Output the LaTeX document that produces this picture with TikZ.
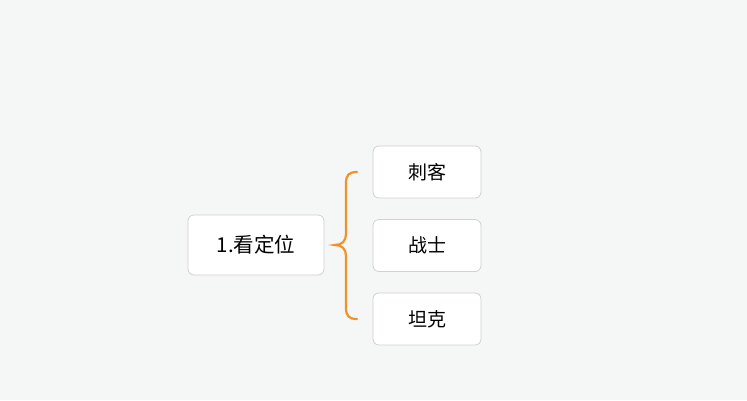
\documentclass[tikz,border=0pt]{standalone}
\usepackage{fontspec}
\setmainfont{Noto Sans CJK SC}
\begin{document}
\begin{tikzpicture}[x=1pt,y=-1pt,
  box/.style={draw=black!18,fill=white,rounded corners=6pt,line width=0.8pt,align=center},
  brace/.style={draw=bracecol,line width=2.2pt,line cap=round}]
\definecolor{bg}{HTML}{F5F6F6}
\definecolor{bracecol}{HTML}{F0922A}
\fill[bg] (0,0) rectangle (747,400);
\useasboundingbox (0,0) rectangle (747,400);
\node[box,minimum width=136pt,minimum height=60pt,font=\fontsize{20.5}{24}\selectfont] (root) at (256,245) {1.看定位};
\node[box,minimum width=108pt,minimum height=52pt,font=\fontsize{19}{22}\selectfont] (c1) at (427,172) {刺客};
\node[box,minimum width=108pt,minimum height=52pt,font=\fontsize{19}{22}\selectfont] (c2) at (427,245.5) {战士};
\node[box,minimum width=108pt,minimum height=52pt,font=\fontsize{19}{22}\selectfont] (c3) at (427,319) {坦克};
\coordinate (bt) at (357,172);
\coordinate (bb) at (357,319);
\coordinate (tip) at (335,245);
\draw[brace] (bt) .. controls (349,172) and (346,175) .. (346,183) -- (346,234) .. controls (346,241) and (342,245) .. (tip)
  .. controls (342,245) and (346,249) .. (346,256) -- (346,308) .. controls (346,316) and (349,319) .. (bb);
\end{tikzpicture}
\end{document}
